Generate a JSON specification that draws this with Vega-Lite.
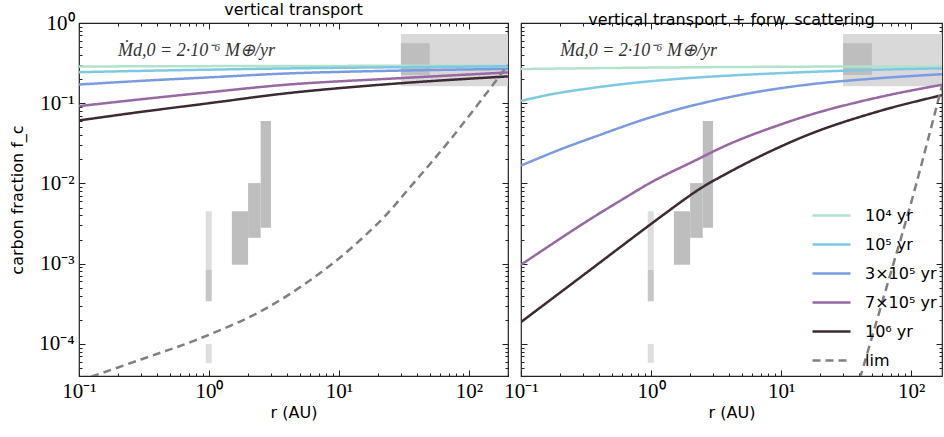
{
  "$schema": "https://vega.github.io/schema/vega-lite/v6.json",
  "padding": {"left": 9, "top": 0, "right": 0, "bottom": 5},
  "spacing": 13,
  "bounds": "flush",
  "config": {
    "view": {"stroke": "#222", "strokeWidth": 1.2},
    "font": "DejaVu Sans",
    "axis": {"domain": false, "grid": false, "labelFont": "Liberation Serif", "labelFontSize": 21, "labelColor": "#000", "tickColor": "#222", "tickWidth": 1, "titleFont": "DejaVu Sans", "titleFontSize": 16, "titleFontWeight": "normal", "titleColor": "#000", "labelOverlap": false, "labelFlush": false, "labelBound": false},
    "axisTop": {"minExtent": 0, "maxExtent": 0},
    "axisRight": {"minExtent": 0, "maxExtent": 0},
    "title": {"font": "DejaVu Sans", "fontSize": 16, "fontWeight": "normal", "offset": -5.5, "color": "#000"}
  },
  "datasets": {
    "boxes": [
      {"kind": "light", "r1": 30, "r2": 200, "f1": 0.163, "f2": 0.73},
      {"kind": "dark", "r1": 30, "r2": 50, "f1": 0.225, "f2": 0.56},
      {"kind": "faint", "r1": 0.944, "r2": 1.05, "f1": 0.00084, "f2": 0.0045},
      {"kind": "medium", "r1": 0.944, "r2": 1.05, "f1": 0.00034, "f2": 0.00084},
      {"kind": "faint", "r1": 0.944, "r2": 1.05, "f1": 0.000058, "f2": 0.0001},
      {"kind": "dark", "r1": 1.5, "r2": 2.0, "f1": 0.00097, "f2": 0.0045},
      {"kind": "dark", "r1": 2.0, "r2": 2.5, "f1": 0.0021, "f2": 0.0101},
      {"kind": "dark", "r1": 2.5, "r2": 3.0, "f1": 0.0028, "f2": 0.06}
    ],
    "vt": [
      {"series": "10⁴ yr", "r": 0.1, "f": 0.287}, {"series": "10⁴ yr", "r": 1, "f": 0.29}, {"series": "10⁴ yr", "r": 10, "f": 0.292}, {"series": "10⁴ yr", "r": 200, "f": 0.294},
      {"series": "10⁵ yr", "r": 0.1, "f": 0.244}, {"series": "10⁵ yr", "r": 0.3, "f": 0.253}, {"series": "10⁵ yr", "r": 1, "f": 0.262}, {"series": "10⁵ yr", "r": 4.3, "f": 0.272}, {"series": "10⁵ yr", "r": 29, "f": 0.281}, {"series": "10⁵ yr", "r": 200, "f": 0.289},
      {"series": "3×10⁵ yr", "r": 0.1, "f": 0.171}, {"series": "3×10⁵ yr", "r": 0.3, "f": 0.19}, {"series": "3×10⁵ yr", "r": 1, "f": 0.21}, {"series": "3×10⁵ yr", "r": 4.3, "f": 0.236}, {"series": "3×10⁵ yr", "r": 29, "f": 0.255}, {"series": "3×10⁵ yr", "r": 200, "f": 0.268},
      {"series": "7×10⁵ yr", "r": 0.1, "f": 0.092}, {"series": "7×10⁵ yr", "r": 0.3, "f": 0.112}, {"series": "7×10⁵ yr", "r": 1, "f": 0.137}, {"series": "7×10⁵ yr", "r": 4.3, "f": 0.172}, {"series": "7×10⁵ yr", "r": 29, "f": 0.205}, {"series": "7×10⁵ yr", "r": 200, "f": 0.242},
      {"series": "10⁶ yr", "r": 0.1, "f": 0.061}, {"series": "10⁶ yr", "r": 0.3, "f": 0.078}, {"series": "10⁶ yr", "r": 1, "f": 0.1}, {"series": "10⁶ yr", "r": 4.3, "f": 0.135}, {"series": "10⁶ yr", "r": 29, "f": 0.177}, {"series": "10⁶ yr", "r": 200, "f": 0.216},
      {"series": "lim", "r": 0.1, "f": 0.0000345}, {"series": "lim", "r": 0.3, "f": 0.000064}, {"series": "lim", "r": 0.84, "f": 0.000116}, {"series": "lim", "r": 2.73, "f": 0.000275}, {"series": "lim", "r": 8.9, "f": 0.001}, {"series": "lim", "r": 21.5, "f": 0.0036}, {"series": "lim", "r": 34.5, "f": 0.0086}, {"series": "lim", "r": 74.5, "f": 0.0377}, {"series": "lim", "r": 200, "f": 0.3}
    ],
    "vtfs": [
      {"series": "10⁴ yr", "r": 0.1, "f": 0.267}, {"series": "10⁴ yr", "r": 1, "f": 0.278}, {"series": "10⁴ yr", "r": 10, "f": 0.285}, {"series": "10⁴ yr", "r": 173, "f": 0.288},
      {"series": "10⁵ yr", "r": 0.1, "f": 0.107}, {"series": "10⁵ yr", "r": 0.174, "f": 0.13}, {"series": "10⁵ yr", "r": 0.315, "f": 0.151}, {"series": "10⁵ yr", "r": 0.567, "f": 0.171}, {"series": "10⁵ yr", "r": 1.37, "f": 0.197}, {"series": "10⁵ yr", "r": 3.98, "f": 0.221}, {"series": "10⁵ yr", "r": 19.6, "f": 0.248}, {"series": "10⁵ yr", "r": 64, "f": 0.263}, {"series": "10⁵ yr", "r": 173, "f": 0.272},
      {"series": "3×10⁵ yr", "r": 0.1, "f": 0.0167}, {"series": "3×10⁵ yr", "r": 0.2, "f": 0.0265}, {"series": "3×10⁵ yr", "r": 0.4, "f": 0.04}, {"series": "3×10⁵ yr", "r": 0.8, "f": 0.0596}, {"series": "3×10⁵ yr", "r": 1.37, "f": 0.078}, {"series": "3×10⁵ yr", "r": 2, "f": 0.092}, {"series": "3×10⁵ yr", "r": 4, "f": 0.119}, {"series": "3×10⁵ yr", "r": 8, "f": 0.146}, {"series": "3×10⁵ yr", "r": 19.6, "f": 0.177}, {"series": "3×10⁵ yr", "r": 64, "f": 0.208}, {"series": "3×10⁵ yr", "r": 173, "f": 0.23},
      {"series": "7×10⁵ yr", "r": 0.1, "f": 0.00097}, {"series": "7×10⁵ yr", "r": 0.3, "f": 0.00315}, {"series": "7×10⁵ yr", "r": 0.6, "f": 0.0063}, {"series": "7×10⁵ yr", "r": 1, "f": 0.0103}, {"series": "7×10⁵ yr", "r": 1.37, "f": 0.0134}, {"series": "7×10⁵ yr", "r": 2, "f": 0.018}, {"series": "7×10⁵ yr", "r": 4, "f": 0.031}, {"series": "7×10⁵ yr", "r": 8, "f": 0.048}, {"series": "7×10⁵ yr", "r": 19.6, "f": 0.0773}, {"series": "7×10⁵ yr", "r": 63.8, "f": 0.124}, {"series": "7×10⁵ yr", "r": 173, "f": 0.17},
      {"series": "10⁶ yr", "r": 0.1, "f": 0.000187}, {"series": "10⁶ yr", "r": 0.315, "f": 0.00076}, {"series": "10⁶ yr", "r": 1.02, "f": 0.0032}, {"series": "10⁶ yr", "r": 1.85, "f": 0.0065}, {"series": "10⁶ yr", "r": 2.41, "f": 0.0087}, {"series": "10⁶ yr", "r": 3.33, "f": 0.0118}, {"series": "10⁶ yr", "r": 8, "f": 0.0245}, {"series": "10⁶ yr", "r": 19.6, "f": 0.0456}, {"series": "10⁶ yr", "r": 63.8, "f": 0.084}, {"series": "10⁶ yr", "r": 173, "f": 0.126},
      {"series": "lim", "r": 38, "f": 0.000026}, {"series": "lim", "r": 41, "f": 0.00004}, {"series": "lim", "r": 70, "f": 0.00078}, {"series": "lim", "r": 102, "f": 0.0064}, {"series": "lim", "r": 173, "f": 0.165}
    ],
    "note": [{"text": "Ṁd,0 = 2·10⁻⁶ M⊕/yr", "r": 0.2, "f": 0.452}]
  },
  "resolve": {"legend": {"color": "independent", "strokeDash": "independent"}},
  "hconcat": [
    {
      "title": "vertical transport",
      "width": 429,
      "height": 353,
      "resolve": {"axis": {"x": "independent", "y": "independent"}},
      "layer": [
        {
          "data": {"name": "boxes"},
          "mark": {"type": "rect", "clip": true},
          "encoding": {
            "x": {"field": "r1", "type": "quantitative", "scale": {"type": "log", "domain": [0.1, 200], "nice": false},
              "axis": {"orient": "bottom", "title": "r (AU)", "titlePadding": 0,
                "values": [0.1,0.2,0.3,0.4,0.5,0.6,0.7,0.8,0.9,1,2,3,4,5,6,7,8,9,10,20,30,40,50,60,70,80,90,100,200],
                "labelExpr": "datum.value == 0.1 ? '10⁻¹' : datum.value == 1 ? '10⁰' : datum.value == 10 ? '10¹' : datum.value == 100 ? '10²' : ''",
                "tickSize": {"condition": {"test": "abs(log(datum.value)/LN10 - round(log(datum.value)/LN10)) < 0.001", "value": -6}, "value": -3},
                "labelPadding": 10}},
            "x2": {"field": "r2"},
            "y": {"field": "f1", "type": "quantitative", "scale": {"type": "log", "domain": [0.0000398, 1], "nice": false},
              "axis": {"orient": "left", "title": "carbon fraction f_c", "titlePadding": 13,
                "values": [0.00005,0.00006,0.00007,0.00008,0.00009,0.0001,0.0002,0.0003,0.0004,0.0005,0.0006,0.0007,0.0008,0.0009,0.001,0.002,0.003,0.004,0.005,0.006,0.007,0.008,0.009,0.01,0.02,0.03,0.04,0.05,0.06,0.07,0.08,0.09,0.1,0.2,0.3,0.4,0.5,0.6,0.7,0.8,0.9,1],
                "labelExpr": "datum.value == 1 ? '10⁰' : datum.value == 0.1 ? '10⁻¹' : datum.value == 0.01 ? '10⁻²' : datum.value == 0.001 ? '10⁻³' : datum.value == 0.0001 ? '10⁻⁴' : ''",
                "tickSize": {"condition": {"test": "abs(log(datum.value)/LN10 - round(log(datum.value)/LN10)) < 0.001", "value": -6}, "value": -3},
                "labelPadding": 11}},
            "y2": {"field": "f2"},
            "fill": {"field": "kind", "type": "nominal", "scale": {"domain": ["light", "dark", "faint", "medium"], "range": ["#d9d9d9", "#bebebe", "#dedede", "#c6c6c6"]}, "legend": null}
          }
        },
        {
          "data": {"name": "vt"},
          "mark": {"type": "line", "clip": true, "strokeWidth": 2.5, "interpolate": "catmull-rom"},
          "encoding": {
            "x": {"field": "r", "type": "quantitative", "scale": {"type": "log", "domain": [0.1, 200], "nice": false},
              "axis": {"orient": "top", "title": null, "labels": false,
                "values": [0.1,0.2,0.3,0.4,0.5,0.6,0.7,0.8,0.9,1,2,3,4,5,6,7,8,9,10,20,30,40,50,60,70,80,90,100,200],
                "tickSize": {"condition": {"test": "abs(log(datum.value)/LN10 - round(log(datum.value)/LN10)) < 0.001", "value": -6}, "value": -3}}},
            "y": {"field": "f", "type": "quantitative", "scale": {"type": "log", "domain": [0.0000398, 1], "nice": false},
              "axis": {"orient": "right", "title": null, "labels": false,
                "values": [0.00005,0.00006,0.00007,0.00008,0.00009,0.0001,0.0002,0.0003,0.0004,0.0005,0.0006,0.0007,0.0008,0.0009,0.001,0.002,0.003,0.004,0.005,0.006,0.007,0.008,0.009,0.01,0.02,0.03,0.04,0.05,0.06,0.07,0.08,0.09,0.1,0.2,0.3,0.4,0.5,0.6,0.7,0.8,0.9,1],
                "tickSize": {"condition": {"test": "abs(log(datum.value)/LN10 - round(log(datum.value)/LN10)) < 0.001", "value": -6}, "value": -3}}},
            "color": {"field": "series", "type": "nominal", "scale": {"domain": ["10⁴ yr", "10⁵ yr", "3×10⁵ yr", "7×10⁵ yr", "10⁶ yr", "lim"], "range": ["#b2e2cb", "#7ec8e4", "#7b9be0", "#9868a4", "#3e2a34", "#808080"]}, "legend": null},
            "strokeDash": {"field": "series", "type": "nominal", "scale": {"domain": ["10⁴ yr", "10⁵ yr", "3×10⁵ yr", "7×10⁵ yr", "10⁶ yr", "lim"], "range": [[1, 0], [1, 0], [1, 0], [1, 0], [1, 0], [8, 5]]}, "legend": null}
          }
        },
        {
          "data": {"name": "note"},
          "mark": {"type": "text", "align": "left", "baseline": "middle", "font": "Liberation Serif", "fontStyle": "italic", "fontSize": 18, "color": "#333"},
          "encoding": {
            "x": {"field": "r", "type": "quantitative", "scale": {"type": "log", "domain": [0.1, 200], "nice": false}, "axis": null},
            "y": {"field": "f", "type": "quantitative", "scale": {"type": "log", "domain": [0.0000398, 1], "nice": false}, "axis": null},
            "text": {"field": "text"}
          }
        }
      ]
    },
    {
      "title": "vertical transport + forw. scattering",
      "width": 421,
      "height": 353,
      "resolve": {"axis": {"x": "independent", "y": "independent"}},
      "layer": [
        {
          "data": {"name": "boxes"},
          "mark": {"type": "rect", "clip": true},
          "encoding": {
            "x": {"field": "r1", "type": "quantitative", "scale": {"type": "log", "domain": [0.1, 173], "nice": false},
              "axis": {"orient": "bottom", "title": "r (AU)", "titlePadding": 0,
                "values": [0.1,0.2,0.3,0.4,0.5,0.6,0.7,0.8,0.9,1,2,3,4,5,6,7,8,9,10,20,30,40,50,60,70,80,90,100],
                "labelExpr": "datum.value == 0.1 ? '10⁻¹' : datum.value == 1 ? '10⁰' : datum.value == 10 ? '10¹' : datum.value == 100 ? '10²' : ''",
                "tickSize": {"condition": {"test": "abs(log(datum.value)/LN10 - round(log(datum.value)/LN10)) < 0.001", "value": -6}, "value": -3},
                "labelPadding": 10}},
            "x2": {"field": "r2"},
            "y": {"field": "f1", "type": "quantitative", "scale": {"type": "log", "domain": [0.0000398, 1], "nice": false},
              "axis": {"orient": "left", "title": null, "labels": false,
                "values": [0.00005,0.00006,0.00007,0.00008,0.00009,0.0001,0.0002,0.0003,0.0004,0.0005,0.0006,0.0007,0.0008,0.0009,0.001,0.002,0.003,0.004,0.005,0.006,0.007,0.008,0.009,0.01,0.02,0.03,0.04,0.05,0.06,0.07,0.08,0.09,0.1,0.2,0.3,0.4,0.5,0.6,0.7,0.8,0.9,1],
                "tickSize": {"condition": {"test": "abs(log(datum.value)/LN10 - round(log(datum.value)/LN10)) < 0.001", "value": -6}, "value": -3}}},
            "y2": {"field": "f2"},
            "fill": {"field": "kind", "type": "nominal", "scale": {"domain": ["light", "dark", "faint", "medium"], "range": ["#d9d9d9", "#bebebe", "#dedede", "#c6c6c6"]}, "legend": null}
          }
        },
        {
          "data": {"name": "vtfs"},
          "mark": {"type": "line", "clip": true, "strokeWidth": 2.5, "interpolate": "catmull-rom"},
          "encoding": {
            "x": {"field": "r", "type": "quantitative", "scale": {"type": "log", "domain": [0.1, 173], "nice": false},
              "axis": {"orient": "top", "title": null, "labels": false,
                "values": [0.1,0.2,0.3,0.4,0.5,0.6,0.7,0.8,0.9,1,2,3,4,5,6,7,8,9,10,20,30,40,50,60,70,80,90,100],
                "tickSize": {"condition": {"test": "abs(log(datum.value)/LN10 - round(log(datum.value)/LN10)) < 0.001", "value": -6}, "value": -3}}},
            "y": {"field": "f", "type": "quantitative", "scale": {"type": "log", "domain": [0.0000398, 1], "nice": false},
              "axis": {"orient": "right", "title": null, "labels": false,
                "values": [0.00005,0.00006,0.00007,0.00008,0.00009,0.0001,0.0002,0.0003,0.0004,0.0005,0.0006,0.0007,0.0008,0.0009,0.001,0.002,0.003,0.004,0.005,0.006,0.007,0.008,0.009,0.01,0.02,0.03,0.04,0.05,0.06,0.07,0.08,0.09,0.1,0.2,0.3,0.4,0.5,0.6,0.7,0.8,0.9,1],
                "tickSize": {"condition": {"test": "abs(log(datum.value)/LN10 - round(log(datum.value)/LN10)) < 0.001", "value": -6}, "value": -3}}},
            "color": {"field": "series", "type": "nominal", "scale": {"domain": ["10⁴ yr", "10⁵ yr", "3×10⁵ yr", "7×10⁵ yr", "10⁶ yr", "lim"], "range": ["#b2e2cb", "#7ec8e4", "#7b9be0", "#9868a4", "#3e2a34", "#808080"]},
              "legend": {"orient": "none", "legendX": 290, "legendY": 172, "title": null, "symbolType": "stroke", "symbolSize": 1444, "symbolStrokeWidth": 2.5, "labelFont": "DejaVu Sans", "labelFontSize": 16, "labelColor": "#000", "rowPadding": -8, "labelOffset": 13, "padding": 0}},
            "strokeDash": {"field": "series", "type": "nominal", "scale": {"domain": ["10⁴ yr", "10⁵ yr", "3×10⁵ yr", "7×10⁵ yr", "10⁶ yr", "lim"], "range": [[1, 0], [1, 0], [1, 0], [1, 0], [1, 0], [8, 5]]},
              "legend": {"orient": "none", "legendX": 290, "legendY": 172, "title": null, "symbolType": "stroke", "symbolSize": 1444, "symbolStrokeWidth": 2.5, "labelFont": "DejaVu Sans", "labelFontSize": 16, "labelColor": "#000", "rowPadding": -8, "labelOffset": 13, "padding": 0}}
          }
        },
        {
          "data": {"name": "note"},
          "mark": {"type": "text", "align": "left", "baseline": "middle", "font": "Liberation Serif", "fontStyle": "italic", "fontSize": 18, "color": "#333"},
          "encoding": {
            "x": {"field": "r", "type": "quantitative", "scale": {"type": "log", "domain": [0.1, 173], "nice": false}, "axis": null},
            "y": {"field": "f", "type": "quantitative", "scale": {"type": "log", "domain": [0.0000398, 1], "nice": false}, "axis": null},
            "text": {"field": "text"}
          }
        }
      ]
    }
  ]
}
